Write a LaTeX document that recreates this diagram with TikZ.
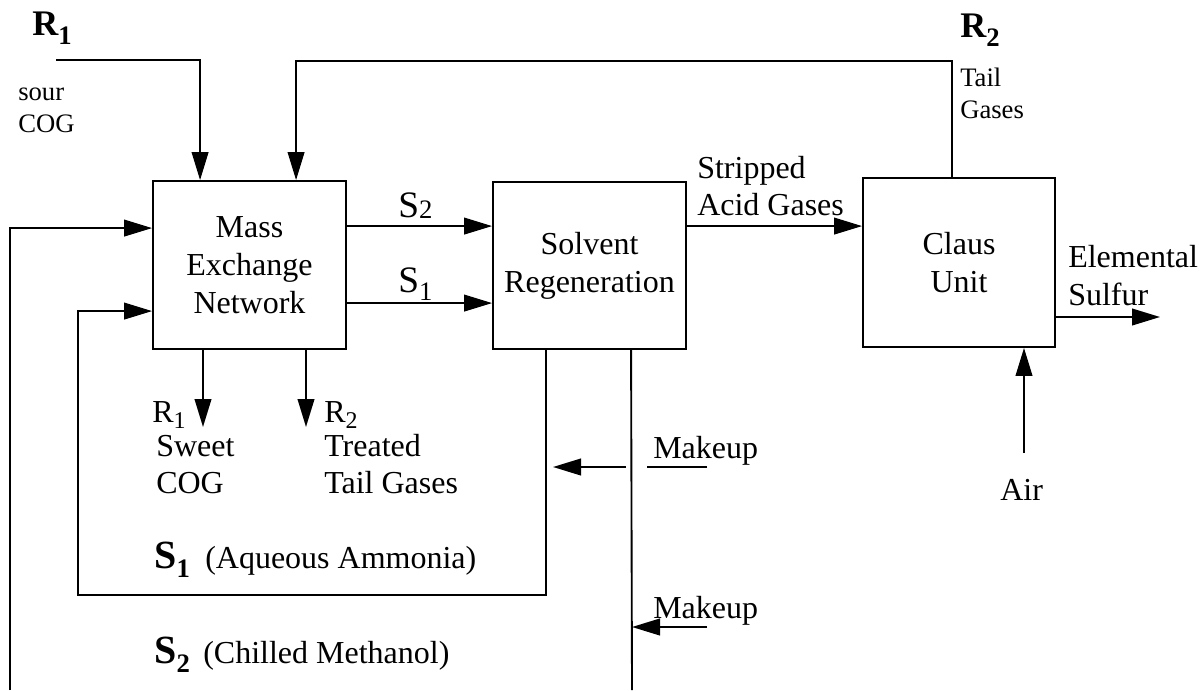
\documentclass[tikz,border=0pt]{standalone}
\usepackage{fontspec}
\setmainfont{Liberation Serif}
\usetikzlibrary{arrows.meta,calc}

% font sizes
\newcommand{\txtsize}{\fontsize{24pt}{28.5pt}\selectfont}
\newcommand{\smallsize}{\fontsize{20pt}{24pt}\selectfont}
% letter with lowered subscript: {letter}{subscript}{drop}{subscript size}
\newcommand{\withsub}[4]{#1\raisebox{-#3}{\fontsize{#4}{#4}\selectfont #2}}

\tikzset{
  flow/.style={line width=1.4pt},
  arr/.style={flow,-{Triangle[length=21pt,width=12.5pt]}},
  unit/.style={draw,line width=1.4pt,align=center,inner sep=0pt,font=\txtsize},
  lbl/.style={anchor=base west,inner sep=0pt,font=\txtsize},
  slbl/.style={anchor=base west,inner sep=0pt,font=\smallsize},
}

\begin{document}
\begin{tikzpicture}[x=0.75pt,y=-0.75pt]
\useasboundingbox (0,0) rectangle (1204,690);

% process units
\node[unit,minimum width=144.75pt,minimum height=126pt] (men) at (249.5,265) {Mass\\Exchange\\Network};
\node[unit,minimum width=144.75pt,minimum height=125.25pt] (sr) at (589.5,265.5) {Solvent\\Regeneration};
\node[unit,minimum width=144pt,minimum height=126.75pt] (claus) at (959,262.5) {Claus\\Unit};

% free ends of streams
\coordinate (r1src) at (56,60);
\coordinate (s2ret) at (10,690);
\coordinate (s2out) at (632,690);
\coordinate (sulfur) at (1160,317);
\coordinate (airsrc) at (1024,453);
\coordinate (sweet) at (203,427);
\coordinate (treated) at (306,427);
\coordinate (mk1) at (707,467);
\coordinate (mk1a) at (647,467);
\coordinate (mk1b) at (626,467);
\coordinate (mk1tip) at (553,467);
\coordinate (mk2) at (707,627);

% sour coke-oven gas feed
\draw[arr] (r1src) -| ($(men.north west)+(48,0)$);
% Claus tail gases recycled to the network
\draw[arr] ($(claus.north west)+(90,0)$) -- ++(0,-116) -| ($(men.north west)+(144,0)$);
% regenerated chilled methanol return
\draw[arr] (s2ret) |- ($(men.north west)+(0,48)$);
% regenerated aqueous ammonia return
\draw[arr] ($(sr.south west)+(54,0)$) -- ++(0,245) -| ($(men.north west)+(-74,131)$) -- ($(men.north west)+(0,131)$);
% methanol leaving the regenerator
\draw[flow] ($(sr.south west)+(139,0)$) -- (s2out);
% rich solvents to regeneration
\draw[arr] ($(men.north east)+(0,46)$) -- ($(sr.north west)+(0,45)$);
\draw[arr] ($(men.north east)+(0,123)$) -- ($(sr.north west)+(0,122)$);
% stripped acid gases to Claus unit
\draw[arr] ($(sr.north east)+(0,45)$) -- ($(claus.north west)+(0,49)$);
% sulfur product and air feed
\draw[arr] (claus.east |- sulfur) -- (sulfur);
\draw[arr] (airsrc) -- (airsrc |- claus.south);
% treated gas outlets
\draw[arr] (men.south -| sweet) -- (sweet);
\draw[arr] (men.south -| treated) -- (treated);
% makeup streams
\draw[flow] (mk1) -- (mk1a);
\draw[arr] (mk1b) -- (mk1tip);
\draw[arr] (mk2) -- (s2out |- mk2);

% labels
\node[lbl,font=\fontsize{27pt}{30pt}\selectfont\bfseries] (r1top) at (32,35) {\withsub{R}{1}{7pt}{20pt}};
\node[slbl] (sour1) at (18,100) {sour};
\node[slbl] (sour2) at (18,132) {COG};
\node[lbl,font=\fontsize{27pt}{30pt}\selectfont\bfseries] (r2top) at (960,37) {\withsub{R}{2}{7pt}{20pt}};
\node[slbl] (tail1) at (960,86) {Tail};
\node[slbl] (tail2) at (960,118) {Gases};

\node[lbl,font=\fontsize{28pt}{32pt}\selectfont] (s2lbl) at (398,217) {\withsub{S}{2}{1pt}{20pt}};
\node[lbl,font=\fontsize{28pt}{32pt}\selectfont] (s1lbl) at (398,292) {\withsub{S}{1}{6pt}{20pt}};

\node[lbl] (acid1) at (697,178) {Stripped};
\node[lbl] (acid2) at (697,215) {Acid Gases};
\node[lbl] (sulf1) at (1068,267) {Elemental};
\node[lbl] (sulf2) at (1068,305) {Sulfur};
\node[lbl] (air) at (1000,500) {Air};

\node[lbl] (r1out) at (152,422) {\withsub{R}{1}{4.5pt}{18pt}};
\node[lbl] (r2out) at (324,422) {\withsub{R}{2}{4.5pt}{18pt}};
\node[lbl] (sw1) at (156,456) {Sweet};
\node[lbl] (sw2) at (156,493) {COG};
\node[lbl] (tr1) at (324,456) {Treated};
\node[lbl] (tr2) at (324,493) {Tail Gases};

\node[lbl] (mkl1) at (653,458) {Makeup};
\node[lbl] (mkl2) at (653,618) {Makeup};

\node[lbl,font=\fontsize{30pt}{34pt}\selectfont\bfseries] (s1name) at (154,568) {\withsub{S}{1}{7pt}{20pt}};
\node[lbl] (s1desc) at (205,568) {(Aqueous Ammonia)};
\node[lbl,font=\fontsize{30pt}{34pt}\selectfont\bfseries] (s2name) at (154,663) {\withsub{S}{2}{7pt}{20pt}};
\node[lbl] (s2desc) at (203,663) {(Chilled Methanol)};
\end{tikzpicture}
\end{document}
